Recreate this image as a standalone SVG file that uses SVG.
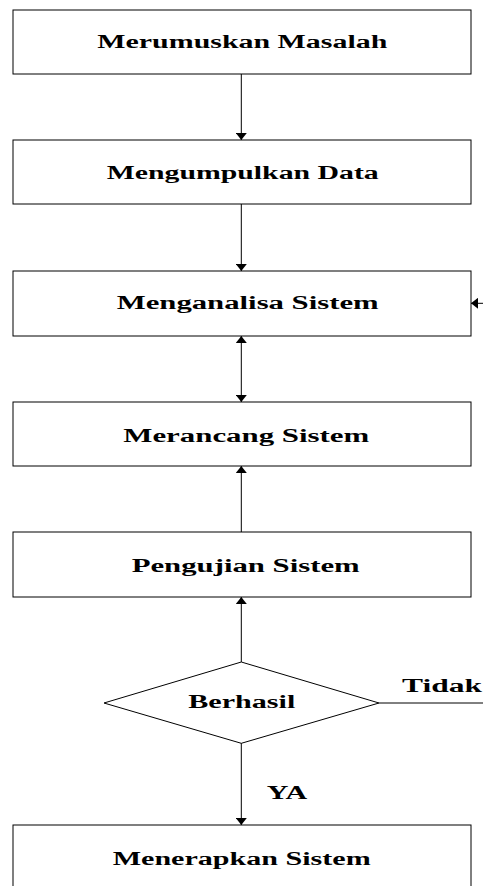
<svg xmlns="http://www.w3.org/2000/svg" width="483" height="886" viewBox="0 0 483 886">
<defs>
<style>
.box{fill:#fff;stroke:#000;stroke-width:1}
.ln{fill:none;stroke:#000;stroke-width:1}
.t{font-family:"Liberation Serif","Times New Roman",serif;font-weight:bold;font-size:18px;fill:#000}
</style>
<marker id="ah" markerUnits="userSpaceOnUse" markerWidth="7" markerHeight="11" viewBox="0 0 7 11" refX="7" refY="5.5" orient="auto-start-reverse">
<path d="M0,0 L7,5.5 L0,11 z" fill="#000"/>
</marker>
</defs>
<rect width="483" height="886" fill="#fff"/>
<g id="connectors">
<line class="ln" x1="241.3" y1="74" x2="241.3" y2="140" marker-end="url(#ah)"/>
<line class="ln" x1="241.3" y1="204" x2="241.3" y2="271" marker-end="url(#ah)"/>
<line class="ln" x1="241.3" y1="336" x2="241.3" y2="402" marker-start="url(#ah)" marker-end="url(#ah)"/>
<line class="ln" x1="241.3" y1="532" x2="241.3" y2="466" marker-end="url(#ah)"/>
<line class="ln" x1="241.3" y1="662" x2="241.3" y2="597" marker-end="url(#ah)"/>
<line class="ln" x1="241.3" y1="743" x2="241.3" y2="825" marker-end="url(#ah)"/>
<line class="ln" x1="379" y1="703" x2="483" y2="703"/>
<line class="ln" x1="483" y1="303.3" x2="471" y2="303.3" marker-end="url(#ah)"/>
</g>
<g id="n1"><rect class="box" x="13" y="10" width="458" height="64"/><text class="t" x="97.3" y="48.3" textLength="290" lengthAdjust="spacingAndGlyphs">Merumuskan Masalah</text></g>
<g id="n2"><rect class="box" x="13" y="140" width="458" height="64"/><text class="t" x="106.7" y="179" textLength="272" lengthAdjust="spacingAndGlyphs">Mengumpulkan Data</text></g>
<g id="n3"><rect class="box" x="13" y="271" width="458" height="65"/><text class="t" x="116.7" y="309" textLength="262" lengthAdjust="spacingAndGlyphs">Menganalisa Sistem</text></g>
<g id="n4"><rect class="box" x="13" y="402" width="458" height="64"/><text class="t" x="123.3" y="442" textLength="246" lengthAdjust="spacingAndGlyphs">Merancang Sistem</text></g>
<g id="n5"><rect class="box" x="13" y="532" width="458" height="65"/><text class="t" x="131.7" y="572" textLength="228" lengthAdjust="spacingAndGlyphs">Pengujian Sistem</text></g>
<g id="n6"><polygon class="box" points="241.3,662 379,703 241.3,743.3 104,703"/><text class="t" x="188.3" y="708.3" textLength="107" lengthAdjust="spacingAndGlyphs">Berhasil</text></g>
<g id="n7"><rect class="box" x="13" y="825" width="458" height="80"/><text class="t" x="112.7" y="865" textLength="258" lengthAdjust="spacingAndGlyphs">Menerapkan Sistem</text></g>
<g id="labels">
<text class="t" x="402" y="692" textLength="80" lengthAdjust="spacingAndGlyphs">Tidak</text>
<text class="t" x="266.7" y="799.3" textLength="40.6" lengthAdjust="spacingAndGlyphs">YA</text>
</g>
</svg>
